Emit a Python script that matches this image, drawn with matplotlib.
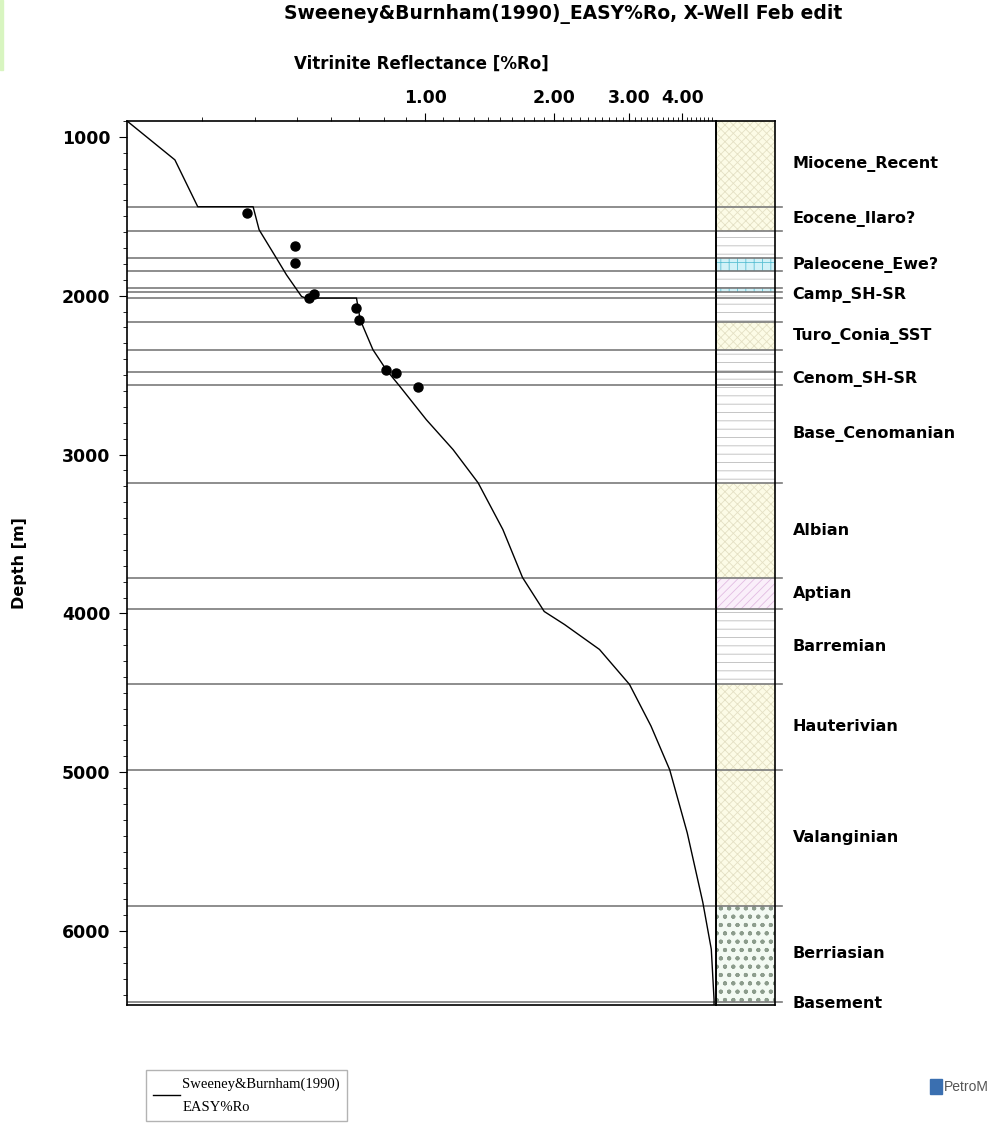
import numpy as np
import matplotlib
matplotlib.use('Agg')
import matplotlib.pyplot as plt
from matplotlib.patches import Rectangle
from matplotlib.ticker import FixedLocator, MultipleLocator, NullFormatter

# modelled EASY%Ro curve (Sweeney & Burnham 1990)
ro_curve = [0.20, 0.259, 0.293, 0.395, 0.408, 0.448, 0.473, 0.513, 0.525, 0.69,
            0.704, 0.754, 0.81, 0.872, 1.006, 1.162, 1.33, 1.52, 1.69, 1.90,
            2.12, 2.56, 3.01, 3.38, 3.74, 4.11, 4.47, 4.68, 4.75, 4.75]
depth_curve = [900, 1145, 1440, 1440, 1585, 1764, 1869, 2005, 2015, 2015,
               2152, 2340, 2466, 2571, 2781, 2969, 3178, 3472, 3774, 3988,
               4070, 4227, 4447, 4709, 4985, 5381, 5818, 6114, 6430, 6465]

# measured vitrinite reflectance
ro_meas = [0.382, 0.495, 0.495, 0.534, 0.548, 0.688, 0.70, 0.81, 0.855, 0.96]
depth_meas = [1480, 1690, 1795, 2015, 1990, 2078, 2156, 2470, 2487, 2575]

# layers: top depth, name, lithology
layer_tops = [900, 1440, 1590, 1765, 1845, 1950, 1975, 2015, 2165, 2340,
              2480, 2565, 3180, 3780, 3970, 4445, 4985, 5840, 6445]
layer_names = ['Miocene_Recent', 'Eocene_Ilaro?', '', 'Paleocene_Ewe?', '', '',
               'Camp_SH-SR', '', 'Turo_Conia_SST', '', 'Cenom_SH-SR',
               'Base_Cenomanian', 'Albian', 'Aptian', 'Barremian', 'Hauterivian',
               'Valanginian', 'Berriasian', 'Basement']
layer_lith = ['sand', 'sand', 'shale', 'lime', 'shale', 'lime', 'shale', 'shale',
              'sand', 'shale', 'shale', 'shale', 'sand', 'marl', 'shale', 'sand',
              'sand', 'congl', 'congl']

depth_top, depth_bottom = 900, 6465
ro_min, ro_max = 0.2, 4.8

lith_style = {
    'sand': ('#fcfbe6', '#e4e0c4', 'xxxx'),
    'shale': ('#ffffff', '#bcbcbc', '--'),
    'lime': ('#d2f2f8', '#5cc0d4', '++'),
    'marl': ('#faeffa', '#e2bce2', '////'),
    'congl': ('#f3faf3', '#8c9c8c', 'oo..'),
}

plt.rcParams['font.family'] = 'DejaVu Sans'
plt.rcParams['font.weight'] = 'bold'
plt.rcParams['hatch.linewidth'] = 0.6

fig = plt.figure(figsize=(9.99, 11.23), dpi=100)
ax2 = fig.add_axes([0.7167, 0.1051, 0.0591, 0.7872])
ax = fig.add_axes([0.1271, 0.1051, 0.5896, 0.7872])

# lithology column
layer_bases = layer_tops[1:] + [depth_bottom]
for top, base, lith in zip(layer_tops, layer_bases, layer_lith):
    fc, hc, hatch = lith_style[lith]
    ax2.axhspan(top, base, facecolor=fc, edgecolor=hc, hatch=hatch, lw=0)
for d in layer_tops[1:]:
    ax2.plot([0, 1.12], [d, d], transform=ax2.get_yaxis_transform(),
             color='#7a7a7a', lw=1.2, clip_on=False)
for name, top, base in zip(layer_names, layer_tops, layer_bases):
    if name:
        ax2.text(1.30, (top + base) / 2, name, transform=ax2.get_yaxis_transform(),
                 ha='left', va='center', fontsize=11.5, fontweight='bold')
ax2.set_ylim(depth_bottom, depth_top)
ax2.set_xlim(0, 1)
ax2.set_xticks([])
ax2.set_yticks([])
for sp in ax2.spines.values():
    sp.set_linewidth(1.2)

# main plot
ax.patch.set_alpha(0)
for d in layer_tops[1:]:
    ax.axhline(d, color='#7a7a7a', lw=1.2, zorder=1)
ax.plot(ro_curve, depth_curve, color='black', lw=1.0, zorder=3,
        label='Sweeney&Burnham(1990)\nEASY%Ro')
ax.plot(ro_meas, depth_meas, 'o', color='black', ms=6.5, zorder=4)

ax.set_xscale('log')
ax.set_xlim(ro_min, ro_max)
ax.set_ylim(depth_bottom, depth_top)
ax.xaxis.set_major_locator(FixedLocator([1, 2, 3, 4]))
ax.xaxis.set_minor_locator(FixedLocator(np.round(np.arange(0.3, 4.75, 0.1), 1)))
ax.xaxis.set_minor_formatter(NullFormatter())
ax.set_xticklabels(['1.00', '2.00', '3.00', '4.00'])
ax.tick_params(axis='x', which='both', top=True, bottom=False,
               labeltop=True, labelbottom=False, direction='out')
ax.tick_params(axis='x', which='major', length=6, pad=4, labelsize=12.5)
ax.tick_params(axis='x', which='minor', length=3)

ax.set_yticks([1000, 2000, 3000, 4000, 5000, 6000])
ax.yaxis.set_minor_locator(MultipleLocator(100))
ax.tick_params(axis='y', which='major', length=6, pad=6, labelsize=12.5)
ax.tick_params(axis='y', which='minor', length=3)
for sp in ax.spines.values():
    sp.set_linewidth(1.2)

fig.text(0.5636, 0.9875, 'Sweeney&Burnham(1990)_EASY%Ro, X-Well Feb edit',
         ha='center', va='center', fontsize=13.5, fontweight='bold')
fig.text(0.4214, 0.943, 'Vitrinite Reflectance [%Ro]',
         ha='center', va='center', fontsize=12, fontweight='bold')
fig.text(0.02, 0.499, 'Depth [m]', rotation=90, ha='center', va='center',
         fontsize=11.5, fontweight='bold')

leg = ax.legend(loc='upper left', bbox_to_anchor=(146 / 999, 1 - 1070 / 1123),
                bbox_transform=fig.transFigure, frameon=True, fancybox=False,
                prop={'family': 'Liberation Serif', 'weight': 'normal', 'size': 10.5},
                handlelength=1.8, borderpad=0.5, handletextpad=0.2,
                borderaxespad=0)
leg.get_frame().set_edgecolor('#a0a0a0')
leg.get_frame().set_linewidth(1.0)
leg.get_texts()[0].set_linespacing(2.0)

# top-left marker strip and logo
fig.patches.append(Rectangle((0, 1 - 70 / 1123), 3 / 999, 70 / 1123,
                             transform=fig.transFigure, color='#d8f5c0'))
fig.patches.append(Rectangle((930 / 999, 1 - 1094 / 1123), 12 / 999, 15 / 1123,
                             transform=fig.transFigure, color='#3a6fb0'))
fig.text(944 / 999, 1 - 1087 / 1123, 'PetroM', ha='left', va='center',
         fontsize=10, fontweight='normal', family='Liberation Sans', color='#555555')

fig.savefig('out.png', dpi=100)
